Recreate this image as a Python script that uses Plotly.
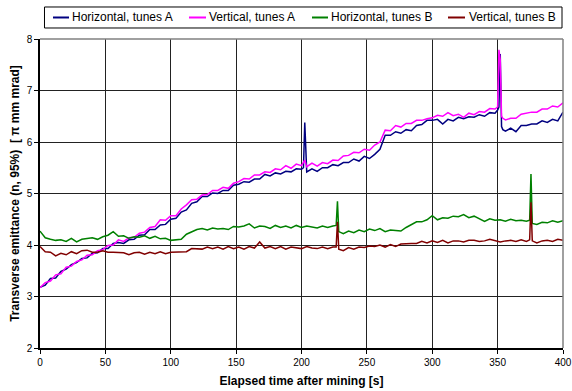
import plotly.graph_objects as go

# sample times (s) for tunes A series
t_A = [0, 4, 8, 12, 16, 20, 24, 28, 32, 36,
       40, 44, 48, 52, 56, 60, 64, 68, 72, 76,
       80, 84, 88, 92, 96, 100, 104, 108, 112, 116,
       120, 124, 128, 132, 136, 140, 144, 148, 152, 156,
       160, 164, 168, 172, 176, 180, 184, 188, 192, 196,
       200, 201.5, 202.5, 203.5, 204, 208, 212, 216, 220, 224,
       228, 232, 236, 240, 244, 248, 252, 256, 260, 264,
       268, 272, 276, 280, 284, 288, 292, 296, 300, 304,
       308, 312, 316, 320, 324, 328, 332, 336, 340, 344,
       348, 350, 351, 352, 353, 354, 356, 360, 364, 368,
       372, 376, 380, 384, 388, 392, 396, 400]

horiz_A = [3.18, 3.22, 3.35, 3.36, 3.49, 3.53, 3.62, 3.66, 3.74, 3.75,
           3.84, 3.85, 3.93, 3.93, 4.03, 4.05, 4.03, 4.10, 4.11, 4.19,
           4.20, 4.30, 4.30, 4.39, 4.40, 4.50, 4.52, 4.64, 4.68, 4.81,
           4.84, 4.94, 4.94, 5.01, 5.00, 5.06, 5.06, 5.16, 5.18, 5.23,
           5.22, 5.28, 5.28, 5.37, 5.34, 5.40, 5.38, 5.43, 5.42, 5.48,
           5.47, 5.50, 6.38, 5.46, 5.42, 5.48, 5.43, 5.50, 5.50, 5.56,
           5.54, 5.60, 5.60, 5.67, 5.63, 5.72, 5.68, 5.76, 5.86, 6.13,
           6.13, 6.20, 6.17, 6.24, 6.22, 6.32, 6.34, 6.42, 6.42, 6.44,
           6.35, 6.44, 6.41, 6.48, 6.45, 6.49, 6.48, 6.53, 6.50, 6.57,
           6.56, 6.62, 6.68, 7.71, 6.30, 6.24, 6.21, 6.27, 6.20, 6.32,
           6.32, 6.35, 6.35, 6.41, 6.38, 6.44, 6.41, 6.58]

vert_A = [3.17, 3.27, 3.30, 3.42, 3.44, 3.57, 3.59, 3.68, 3.71, 3.80,
          3.81, 3.89, 3.91, 3.99, 4.00, 4.10, 4.07, 4.14, 4.15, 4.23,
          4.25, 4.34, 4.36, 4.49, 4.48, 4.57, 4.57, 4.70, 4.78, 4.88,
          4.89, 4.97, 4.98, 5.06, 5.06, 5.12, 5.10, 5.20, 5.23, 5.29,
          5.28, 5.36, 5.36, 5.42, 5.41, 5.48, 5.46, 5.54, 5.49, 5.57,
          5.54, 5.60, 5.65, 5.56, 5.52, 5.59, 5.53, 5.60, 5.58, 5.65,
          5.64, 5.73, 5.74, 5.80, 5.79, 5.86, 5.84, 5.94, 6.00, 6.23,
          6.22, 6.32, 6.29, 6.36, 6.36, 6.42, 6.42, 6.45, 6.47, 6.52,
          6.50, 6.57, 6.51, 6.54, 6.48, 6.56, 6.53, 6.59, 6.58, 6.65,
          6.64, 6.68, 7.79, 7.60, 6.50, 6.46, 6.43, 6.46, 6.46, 6.54,
          6.56, 6.58, 6.58, 6.64, 6.64, 6.70, 6.68, 6.76]

# sample times (s) for tunes B series
t_B = [0, 4, 8, 12, 16, 20, 24, 28, 32, 36,
       40, 44, 48, 52, 56, 60, 64, 68, 72, 76,
       80, 84, 88, 92, 96, 100, 104, 108, 112, 116,
       120, 124, 128, 132, 136, 140, 144, 148, 152, 156,
       160, 164, 168, 172, 176, 180, 184, 188, 192, 196,
       200, 204, 208, 212, 216, 220, 224, 226.5, 227.5, 228.5,
       232, 236, 240, 244, 248, 252, 256, 260, 264, 268,
       272, 276, 280, 284, 288, 292, 296, 300, 304, 308,
       312, 316, 320, 324, 328, 332, 336, 340, 344, 348,
       352, 356, 360, 364, 368, 372, 374.5, 375.5, 376.5, 380,
       384, 388, 392, 396, 400]

horiz_B = [4.27, 4.14, 4.11, 4.09, 4.10, 4.07, 4.13, 4.06, 4.11, 4.12,
           4.14, 4.11, 4.16, 4.19, 4.26, 4.17, 4.18, 4.13, 4.16, 4.15,
           4.18, 4.13, 4.17, 4.12, 4.13, 4.09, 4.10, 4.11, 4.21, 4.25,
           4.30, 4.32, 4.29, 4.33, 4.31, 4.32, 4.30, 4.36, 4.35, 4.37,
           4.41, 4.33, 4.37, 4.36, 4.32, 4.38, 4.34, 4.37, 4.33, 4.38,
           4.34, 4.37, 4.35, 4.33, 4.37, 4.34, 4.37, 4.38, 4.85, 4.26,
           4.22, 4.27, 4.24, 4.29, 4.26, 4.31, 4.28, 4.32, 4.26, 4.29,
           4.28, 4.27, 4.34, 4.39, 4.45, 4.45, 4.49, 4.57, 4.49, 4.53,
           4.52, 4.56, 4.55, 4.59, 4.53, 4.56, 4.51, 4.46, 4.51, 4.48,
           4.49, 4.46, 4.50, 4.47, 4.48, 4.46, 4.48, 5.38, 4.42, 4.40,
           4.44, 4.43, 4.47, 4.44, 4.47]

vert_B = [3.97, 3.87, 3.86, 3.79, 3.84, 3.81, 3.87, 3.83, 3.89, 3.90,
          3.86, 3.86, 3.89, 3.86, 3.86, 3.85, 3.85, 3.81, 3.85, 3.86,
          3.82, 3.86, 3.83, 3.87, 3.83, 3.86, 3.86, 3.87, 3.87, 3.93,
          3.93, 3.92, 3.96, 3.93, 3.96, 3.92, 3.97, 3.93, 3.96, 3.92,
          3.97, 3.94, 4.06, 3.94, 3.97, 3.93, 3.97, 3.92, 3.96, 3.95,
          3.93, 3.97, 3.94, 3.93, 3.96, 3.93, 3.96, 3.96, 4.45, 3.92,
          3.89, 3.95, 3.92, 3.96, 3.95, 3.98, 3.97, 4.00, 3.96, 4.01,
          3.97, 4.02, 4.03, 4.03, 4.03, 4.07, 4.04, 4.08, 4.05, 4.09,
          4.04, 4.08, 4.08, 4.06, 4.09, 4.09, 4.07, 4.08, 4.11, 4.08,
          4.06, 4.08, 4.09, 4.07, 4.10, 4.07, 4.10, 4.83, 4.08, 4.04,
          4.08, 4.09, 4.07, 4.11, 4.09]

series_names = ["Horizontal, tunes A", "Vertical, tunes A", "Horizontal, tunes B", "Vertical, tunes B"]
series_colors = ["#000080", "#FF00FF", "#008000", "#800000"]

x_ticks = [0, 50, 100, 150, 200, 250, 300, 350, 400]
y_ticks = [2, 3, 4, 5, 6, 7, 8]

fig = go.Figure()
for name, color, xs, ys in zip(series_names, series_colors,
                               [t_A, t_A, t_B, t_B],
                               [horiz_A, vert_A, horiz_B, vert_B]):
    fig.add_trace(go.Scatter(x=xs, y=ys, mode="lines", name=name, showlegend=False,
                             line=dict(color=color, width=1.5)))

font = "Liberation Sans, Arial, sans-serif"

# legend (drawn as a box with line samples and labels above the plot)
leg_line_x = [(0.0249, 0.0555), (0.2849, 0.3174), (0.5201, 0.5507), (0.7801, 0.8126)]
leg_text_x = [0.0583, 0.3184, 0.5535, 0.8155]
leg_y = 1.0696
shapes = [dict(type="rect", xref="paper", yref="paper", x0=0.0086, x1=0.9981, y0=1.0356, y1=1.1036,
               line=dict(color="black", width=1), fillcolor="white")]
annotations = []
for (x0, x1), tx, name, color in zip(leg_line_x, leg_text_x, series_names, series_colors):
    shapes.append(dict(type="line", xref="paper", yref="paper", x0=x0, x1=x1, y0=leg_y, y1=leg_y,
                       line=dict(color=color, width=2)))
    annotations.append(dict(xref="paper", yref="paper", x=tx, y=leg_y, text=name, showarrow=False,
                            xanchor="left", yanchor="middle", font=dict(size=12, family=font, color="black")))
# grey top and right frame of plot area
shapes.append(dict(type="line", xref="paper", yref="paper", x0=0, x1=1, y0=1, y1=1,
                   line=dict(color="#808080", width=1.5), layer="above"))
shapes.append(dict(type="line", xref="paper", yref="paper", x0=1, x1=1, y0=0, y1=1,
                   line=dict(color="#808080", width=1.5), layer="above"))

fig.update_layout(
    width=572, height=391,
    margin=dict(l=40, r=9, t=39, b=43),
    paper_bgcolor="white", plot_bgcolor="white",
    font=dict(family=font, size=10, color="black"),
    showlegend=False,
    shapes=shapes,
    annotations=annotations,
    xaxis=dict(range=[0, 400], tickvals=x_ticks, ticks="outside", ticklen=4,
               tickcolor="black", showline=True, linecolor="black", linewidth=1.5,
               showgrid=True, gridcolor="#222222", gridwidth=1, zeroline=False,
               automargin=False, ticklabeloverflow="allow",
               title=dict(text="<b>Elapsed time after mining [s]</b>", font=dict(size=12), standoff=10)),
    yaxis=dict(range=[2, 8], tickvals=y_ticks, ticks="outside", ticklen=4,
               tickcolor="black", showline=True, linecolor="black", linewidth=1.5,
               showgrid=True, gridcolor="#222222", gridwidth=1, zeroline=False,
               automargin=False,
               title=dict(text="<b>Transverse emittance (n, 95%)  [ π mm mrad]</b>", font=dict(size=12), standoff=4)),
)
fig.write_html("out.html", config={"displayModeBar": False},
               post_script="document.body.style.margin='0';document.body.style.padding='0';")
